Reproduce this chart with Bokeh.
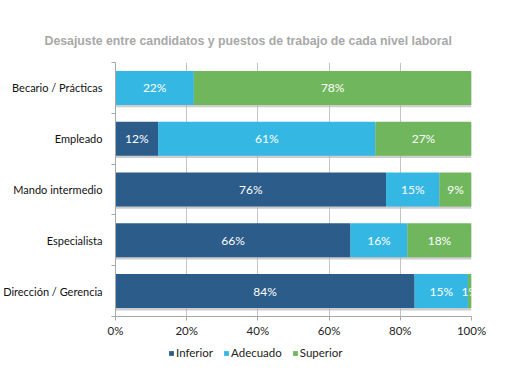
from bokeh.plotting import figure
from bokeh.models import FixedTicker, Legend, LegendItem, ColumnDataSource, Range1d
from bokeh.layouts import column
from bokeh.core.properties import value
from bokeh.embed import file_html
from bokeh.resources import INLINE

title = "Desajuste entre candidatos y puestos de trabajo de cada nivel laboral"
categories = ["Becario / Prácticas", "Empleado", "Mando intermedio", "Especialista", "Dirección / Gerencia"]
series = ["Inferior", "Adecuado", "Superior"]
inferior = [0, 12, 76, 66, 84]
adecuado = [22, 61, 15, 16, 15]
superior = [78, 27, 9, 18, 1]
colors = ["#2B5C8A", "#35B7E4", "#70B65C"]
x_ticks = [0, 20, 40, 60, 80, 100]

FONT = "Lato"
n = len(categories)
ypos = [n - i - 0.5 for i in range(n)]

p = figure(frame_width=356, frame_height=254, output_backend="svg", toolbar_location=None,
           x_range=Range1d(0, 100), y_range=Range1d(0, n),
           min_border_left=115, min_border_right=39, min_border_top=62, min_border_bottom=24)
p.outline_line_color = None
p.background_fill_color = "white"

# grid
p.xgrid.ticker = FixedTicker(ticks=x_ticks)
p.xgrid.grid_line_color = "#c4c4c4"
p.xgrid.grid_line_width = 1
p.ygrid.grid_line_color = None

# shadow
totals = [a + b + c for a, b, c in zip(inferior, adecuado, superior)]
p.hbar(y=[y - 0.045 for y in ypos], left=0, right=totals, height=0.67,
       fill_color="#b8b8b8", line_color=None, fill_alpha=0.7)

vals = [inferior, adecuado, superior]
left = [0] * n
lab_x, lab_y, lab_t = [], [], []
for s, v, col in zip(series, vals, colors):
    right = [l + x for l, x in zip(left, v)]
    src = ColumnDataSource(dict(y=ypos, left=left, right=right))
    p.hbar(y="y", left="left", right="right", height=0.67, source=src,
           fill_color=col, line_color=None)
    for i in range(n):
        if v[i] > 0:
            lab_x.append(left[i] + v[i] / 2)
            lab_y.append(ypos[i])
            lab_t.append(f"{v[i]}%")
    left = right

p.text(x=lab_x, y=lab_y, text=lab_t, text_color="white", text_font=value(FONT),
       text_font_size="12px", text_align="center", text_baseline="middle")

# axes
p.xaxis.axis_label = None
p.yaxis.axis_label = None
p.xaxis.ticker = FixedTicker(ticks=x_ticks)
p.xaxis.major_label_overrides = {t: f"{t}%" for t in x_ticks}
p.xaxis.axis_line_color = "#a8a8a8"
p.xaxis.major_tick_line_color = "#a8a8a8"
p.xaxis.major_tick_in = 0
p.xaxis.major_tick_out = 4
p.xaxis.minor_tick_line_color = None
p.xaxis.major_label_text_font = FONT
p.xaxis.major_label_text_font_size = "11.5px"
p.xaxis.major_label_text_color = "#222222"
p.xaxis.major_label_standoff = 3

p.yaxis.ticker = FixedTicker(ticks=ypos, minor_ticks=list(range(n + 1)))
p.yaxis.major_label_overrides = {y: c for y, c in zip(ypos, categories)}
p.yaxis.axis_line_color = "#a8a8a8"
p.yaxis.major_tick_line_color = None
p.yaxis.major_tick_in = 0
p.yaxis.major_tick_out = 0
p.yaxis.minor_tick_line_color = "#a8a8a8"
p.yaxis.minor_tick_in = 0
p.yaxis.minor_tick_out = 4
p.yaxis.major_label_text_font = FONT
p.yaxis.major_label_text_font_size = "11px"
p.yaxis.major_label_text_color = "#111111"
p.yaxis.major_label_standoff = 9

# title
p.title.text = title
p.title.text_font = "Liberation Sans"
p.title.text_font_style = "bold"
p.title.text_font_size = "12.3px"
p.title.text_color = "#a8a8a8"
p.title.align = "left"
p.title.offset = -71
p.title.standoff = 30

# legend in its own strip below the chart
lf = figure(width=510, height=36, output_backend="svg", toolbar_location=None,
            x_range=Range1d(0, 1), y_range=Range1d(0, 1), min_border=0)
lf.axis.visible = False
lf.grid.grid_line_color = None
lf.outline_line_color = None
items = []
for s, col in zip(series, colors):
    r = lf.hbar(y=[-5], left=[0], right=[0], height=0.1, fill_color=col, line_color=None)
    items.append(LegendItem(label=s, renderers=[r]))
legend = Legend(items=items, orientation="horizontal", location=(53, 17),
                glyph_width=6, glyph_height=6, label_standoff=2, spacing=10,
                label_text_font=FONT, label_text_font_size="11.5px", label_text_color="#222222",
                border_line_color=None, background_fill_alpha=0, margin=0, padding=4)
lf.add_layout(legend, "center")

open("out.html", "w").write(file_html(column(p, lf, spacing=0), INLINE))
